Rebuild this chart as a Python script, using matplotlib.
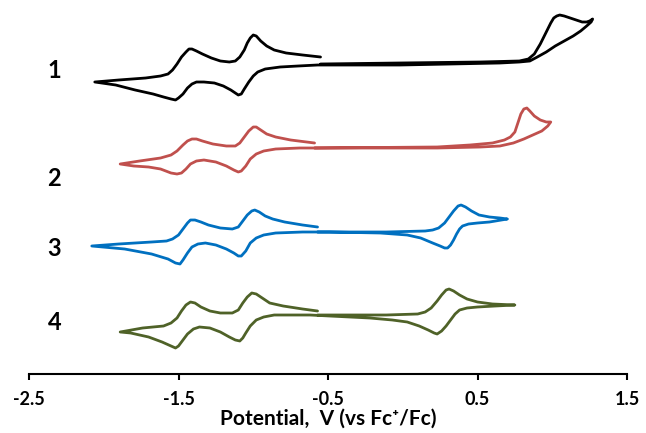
import matplotlib
matplotlib.use("Agg")
import matplotlib.pyplot as plt

# cyclic voltammograms, potential in V vs Fc+/Fc, current in arbitrary units
# (relative to each trace's flat baseline)
E1 = [-0.55, -0.02, 0.52, 0.78, 0.84, 0.88, 0.92, 0.96, 0.99, 1.01, 1.03, 1.05, 1.08, 1.12,
      1.16, 1.20, 1.23, 1.25, 1.27,
      1.26, 1.23, 1.19, 1.14, 1.08, 1.02, 0.96, 0.90, 0.85, 0.78, 0.65, 0.32, -0.02, -0.49,
      -0.57, -0.70, -0.82, -0.92, -0.97, -1.00, -1.03, -1.06, -1.08, -1.10, -1.12, -1.15,
      -1.20, -1.26, -1.33, -1.38, -1.41, -1.44, -1.47, -1.50, -1.52, -1.55, -1.60, -1.67,
      -1.79, -1.92, -2.06,
      -1.90, -1.72, -1.62, -1.57, -1.54, -1.51, -1.48, -1.45, -1.43, -1.41, -1.38, -1.34,
      -1.28, -1.22, -1.16, -1.12, -1.09, -1.06, -1.04, -1.02, -1.00, -0.98, -0.95, -0.91,
      -0.86, -0.78, -0.67, -0.55]
I1 = [0, 1, 2, 3, 5, 10, 20, 32, 41, 46, 48, 49, 48, 46,
      44, 42, 42, 43, 45,
      42, 38, 33, 28, 23, 18, 12, 7, 3, 2, 1, 0, -1, -1,
      -1, -2, -3, -5, -8, -12, -18, -25, -30, -31, -29, -26,
      -22, -19, -18, -18, -20, -24, -30, -34, -36, -35, -33, -30,
      -26, -21, -18,
      -16, -14, -12, -10, -6, 0, 7, 12, 15, 15, 13, 10,
      6, 3, 2, 3, 7, 14, 21, 26, 29, 28, 23, 18,
      14, 11, 9, 7]

E2 = [-0.59, 0.23, 0.45, 0.60, 0.68, 0.72, 0.75, 0.77, 0.79, 0.81, 0.83, 0.85, 0.88, 0.92,
      0.96, 0.99,
      0.97, 0.93, 0.87, 0.81, 0.74, 0.65, 0.52, 0.23, -0.49, -0.69, -0.85, -0.93, -0.98,
      -1.02, -1.05, -1.08, -1.10, -1.13, -1.18, -1.25, -1.33, -1.38, -1.42, -1.45, -1.48,
      -1.51, -1.55, -1.62, -1.70, -1.80, -1.89,
      -1.76, -1.62, -1.55, -1.51, -1.47, -1.44, -1.41, -1.38, -1.34, -1.27, -1.18, -1.12,
      -1.09, -1.06, -1.03, -1.00, -0.98, -0.95, -0.91, -0.85, -0.75, -0.59]
I2 = [-1, 0, 2, 4, 7, 10, 15, 24, 33, 38, 39, 36, 31, 27,
      25, 25,
      21, 16, 12, 8, 4, 1, 0, -1, -1, -1, -2, -4, -7,
      -12, -19, -24, -25, -23, -19, -15, -13, -14, -17, -22, -26,
      -27, -26, -22, -20, -19, -17,
      -14, -11, -8, -4, 2, 6, 8, 8, 6, 3, 1, 1,
      4, 10, 16, 20, 20, 17, 13, 10, 7, 4]

E3 = [-0.57, -0.11, 0.15, 0.20, 0.24, 0.28, 0.31, 0.34, 0.37, 0.39, 0.42, 0.46, 0.51, 0.58,
      0.65, 0.70,
      0.66, 0.58, 0.50, 0.44, 0.40, 0.38, 0.36, 0.34, 0.32, 0.30, 0.28, 0.25, 0.20, 0.12,
      0.03, -0.15, -0.49, -0.67, -0.85, -0.93, -0.98, -1.02, -1.05, -1.08, -1.10, -1.13,
      -1.18, -1.25, -1.32, -1.37, -1.41, -1.44, -1.47, -1.49, -1.52, -1.57, -1.68, -1.86,
      -2.08,
      -1.90, -1.68, -1.58, -1.54, -1.50, -1.47, -1.44, -1.42, -1.39, -1.35, -1.30, -1.22,
      -1.14, -1.10, -1.07, -1.04, -1.01, -0.99, -0.96, -0.92, -0.87, -0.79, -0.67, -0.57]
I3 = [0, 0, 1, 2, 4, 9, 15, 21, 26, 27, 25, 21, 17, 15,
      14, 13,
      12, 10, 9, 8, 6, 3, -2, -8, -13, -16, -16, -14, -11, -6,
      -3, -1, 0, 0, -1, -3, -6, -11, -19, -24, -24, -21,
      -17, -13, -11, -12, -15, -21, -28, -32, -31, -27, -22, -17,
      -14,
      -12, -10, -9, -7, -3, 3, 9, 12, 12, 10, 7, 4,
      3, 5, 11, 17, 21, 22, 20, 16, 13, 10, 7, 5]

E4 = [-0.57, -0.11, 0.10, 0.15, 0.19, 0.23, 0.26, 0.29, 0.31, 0.34, 0.38, 0.43, 0.50, 0.60,
      0.75,
      0.62, 0.50, 0.43, 0.38, 0.35, 0.32, 0.29, 0.26, 0.23, 0.21, 0.17, 0.11, 0.03, -0.07,
      -0.22, -0.49, -0.62, -0.86, -0.93, -0.98, -1.02, -1.05, -1.07, -1.09, -1.12, -1.16,
      -1.22, -1.29, -1.36, -1.40, -1.44, -1.47, -1.50, -1.52, -1.55, -1.61, -1.70, -1.82,
      -1.89,
      -1.74, -1.60, -1.55, -1.51, -1.48, -1.45, -1.42, -1.39, -1.35, -1.29, -1.22, -1.14,
      -1.10, -1.07, -1.04, -1.01, -0.98, -0.94, -0.89, -0.80, -0.67, -0.57]
I4 = [0, 0, 1, 3, 7, 14, 20, 25, 26, 24, 20, 16, 13, 11,
      10,
      9, 8, 7, 5, 1, -5, -11, -16, -19, -18, -15, -11, -7, -5,
      -3, -1, 0, 0, -2, -5, -11, -18, -23, -26, -25, -22,
      -17, -13, -12, -14, -19, -25, -31, -33, -31, -27, -22, -18,
      -17,
      -13, -11, -8, -3, 4, 10, 13, 12, 8, 4, 2, 2,
      5, 12, 18, 22, 21, 17, 12, 9, 6, 4]

LABELS = ['1', '2', '3', '4']
COLORS = ['black', '#C0504D', '#0070C0', '#4F6228']
OFFSETS = [251, 168, 83, 0]
LABEL_Y = [245, 137, 67, -7]
XTICKS = [-2.5, -1.5, -0.5, 0.5, 1.5]

plt.rcParams['font.family'] = ['Lato', 'DejaVu Sans']

fig = plt.figure(figsize=(6.46, 4.33), dpi=100)
ax = fig.add_axes([29 / 646, 59 / 433, 598 / 646, 369 / 433])

curves = [(E1, I1), (E2, I2), (E3, I3), (E4, I4)]
for (E, I), off, color in zip(curves, OFFSETS, COLORS):
    ax.plot(E, [i + off for i in I], color=color, lw=2.0,
            solid_joinstyle='round', solid_capstyle='round')

for lab, y in zip(LABELS, LABEL_Y):
    ax.text(-2.33, y, lab, ha='center', va='center', fontsize=17,
            fontweight='bold', color='black')

ax.set_xlim(-2.5, 1.5)
ax.set_ylim(-59, 310)
ax.set_xticks(XTICKS)
ax.set_xticklabels([f'{t:g}' for t in XTICKS], fontsize=13, fontweight='bold')
ax.set_yticks([])
for s in ['left', 'top', 'right']:
    ax.spines[s].set_visible(False)
ax.spines['bottom'].set_linewidth(1.5)
ax.tick_params(axis='x', direction='out', length=4, width=1.5, pad=8)
ax.set_xlabel('Potential,  V (vs Fc\u207a/Fc)', fontsize=15, fontweight='bold', labelpad=1)

fig.savefig('out.png', dpi=100)
